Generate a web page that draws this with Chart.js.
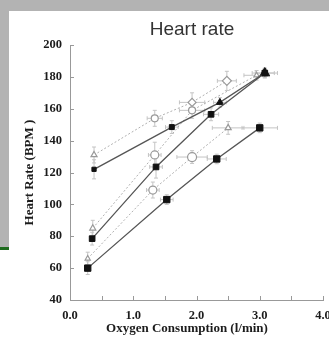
<!DOCTYPE html>
<html>
<head>
<meta charset="utf-8">
<script src="https://cdn.jsdelivr.net/npm/chart.js@4.4.1/dist/chart.umd.min.js"></script>
<style>
  html, body { margin: 0; padding: 0; width: 329px; height: 340px; overflow: hidden; background: #fff; }
  #topbar  { position: absolute; left: 0; top: 0; width: 329px; height: 11px; background: #b3b3b3; }
  #sidebar { position: absolute; left: 0; top: 0; width: 9px; height: 247px; background: #b3b3b3; }
  #rule    { position: absolute; left: 0; top: 247px; width: 9px; height: 3px; background: #1e6b1e; }
  #wrap    { position: absolute; left: 0; top: 0; width: 340px; height: 340px; }
</style>
</head>
<body>
<div id="topbar"></div>
<div id="sidebar"></div>
<div id="rule"></div>
<div id="wrap"><canvas id="c" width="340" height="340"></canvas></div>
<script>
// Text
const chartTitle = 'Heart rate';
const xTitle = 'Oxygen Consumption (l/min)';
const yTitle = 'Heart Rate (BPM )';

// Axis ranges / ticks
const xMin = 0, xMax = 4, xStep = 0.5;
const yMin = 40, yMax = 200, yStep = 20;

// Group 1 (upper pair)
const g1FilledVO2 = [0.38, 1.61, 2.37, 3.08];
const g1FilledHR  = [122, 148.5, 164, 182.4];
const g1FilledHRsd = [6, 4, 3, 3];
const g1FilledVO2sd = [0, 0.1, 0.1, 0.15];
const g1OpenVO2 = [0.38, 1.34, 1.93, 2.48];
const g1OpenHR  = [131, 154, 164, 177.5];
const g1OpenHRsd = [5, 5, 6, 6];
const g1OpenVO2sd = [0, 0.12, 0.2, 0.15];

// Group 2 (middle pair)
const g2FilledVO2 = [0.35, 1.36, 2.23, 3.08];
const g2FilledHR  = [78.5, 123.5, 156.5, 182.4];
const g2FilledHRsd = [4, 7, 4, 3];
const g2FilledVO2sd = [0, 0.1, 0.12, 0.2];
const g2OpenVO2 = [0.36, 1.34, 1.93, 2.95];
const g2OpenHR  = [85, 131, 159, 181];
const g2OpenHRsd = [5, 8, 5, 3];
const g2OpenVO2sd = [0, 0.1, 0.2, 0.2];

// Group 3 (lower pair)
const g3FilledVO2 = [0.28, 1.53, 2.32, 3.0];
const g3FilledHR  = [60, 103, 128.5, 148];
const g3FilledHRsd = [4, 3, 3, 3];
const g3FilledVO2sd = [0, 0.1, 0.15, 0.28];
const g3OpenVO2 = [0.28, 1.31, 1.93, 2.5];
const g3OpenHR  = [66, 109, 129.7, 148];
const g3OpenHRsd = [4, 5, 4, 4];
const g3OpenVO2sd = [0, 0.1, 0.24, 0.25];

const toPoints = (xs, ys) => xs.map((x, i) => ({ x: x, y: ys[i] }));

const textColor = '#1c1c1c';
const solidLine = '#555';
const dottedLine = '#b0b0b0';
const serifBold = { family: '"Liberation Serif", "DejaVu Serif", serif', weight: 'bold' };

function filledSet(xs, ys, xsd, ysd, style, r) {
  return {
    data: toPoints(xs, ys), errX: xsd, errY: ysd,
    borderColor: solidLine, borderWidth: 1.3,
    pointStyle: style, pointRadius: r,
    pointBackgroundColor: '#111', pointBorderColor: '#111', pointBorderWidth: 1,
    showLine: true, tension: 0
  };
}
function openSet(xs, ys, xsd, ysd, style, r) {
  return {
    data: toPoints(xs, ys), errX: xsd, errY: ysd,
    borderColor: dottedLine, borderWidth: 1, borderDash: [2, 2],
    pointStyle: style, pointRadius: r,
    pointBackgroundColor: '#fff', pointBorderColor: '#999', pointBorderWidth: 1.2,
    showLine: true, tension: 0
  };
}

// Error bars drawn behind the markers
const errorBars = {
  id: 'errorBars',
  beforeDatasetsDraw(chart) {
    const { ctx, scales: { x, y } } = chart;
    ctx.save();
    ctx.strokeStyle = '#c4c4c4';
    ctx.lineWidth = 1;
    chart.data.datasets.forEach(ds => {
      ds.data.forEach((p, i) => {
        const px = x.getPixelForValue(p.x), py = y.getPixelForValue(p.y);
        const ey = ds.errY ? ds.errY[i] : 0, ex = ds.errX ? ds.errX[i] : 0;
        ctx.beginPath();
        if (ey) {
          const t = y.getPixelForValue(p.y + ey), b = y.getPixelForValue(p.y - ey);
          ctx.moveTo(px, t); ctx.lineTo(px, b);
          ctx.moveTo(px - 2, t); ctx.lineTo(px + 2, t);
          ctx.moveTo(px - 2, b); ctx.lineTo(px + 2, b);
        }
        if (ex) {
          const l = x.getPixelForValue(p.x - ex), r = x.getPixelForValue(p.x + ex);
          ctx.moveTo(l, py); ctx.lineTo(r, py);
          ctx.moveTo(l, py - 2); ctx.lineTo(l, py + 2);
          ctx.moveTo(r, py - 2); ctx.lineTo(r, py + 2);
        }
        ctx.stroke();
      });
    });
    ctx.restore();
  }
};

// Inward tick marks, chart title and x-axis title
const decorations = {
  id: 'decorations',
  afterDraw(chart) {
    const { ctx, chartArea: a, scales: { x, y } } = chart;
    ctx.save();
    ctx.strokeStyle = '#999';
    ctx.lineWidth = 1;
    ctx.beginPath();
    y.ticks.forEach(t => {
      const py = Math.round(y.getPixelForValue(t.value)) + 0.5;
      ctx.moveTo(a.left, py); ctx.lineTo(a.left + 4, py);
    });
    x.ticks.forEach(t => {
      const px = Math.round(x.getPixelForValue(t.value)) + 0.5;
      ctx.moveTo(px, a.bottom); ctx.lineTo(px, a.bottom - 4);
    });
    ctx.stroke();

    ctx.fillStyle = '#333';
    ctx.textAlign = 'center';
    ctx.textBaseline = 'middle';
    ctx.font = '19px "Liberation Sans", Arial, sans-serif';
    ctx.fillText(chartTitle, a.left + 122, 30);

    ctx.fillStyle = textColor;
    ctx.font = 'bold 13px "Liberation Serif", "DejaVu Serif", serif';
    ctx.fillText(xTitle, x.getPixelForValue(1.85), 329);
    ctx.restore();
  }
};

new Chart(document.getElementById('c'), {
  type: 'scatter',
  data: {
    datasets: [
      filledSet(g3FilledVO2, g3FilledHR, g3FilledVO2sd, g3FilledHRsd, 'rect', 4.5),
      filledSet(g2FilledVO2, g2FilledHR, g2FilledVO2sd, g2FilledHRsd, 'rect', 4),
      filledSet(g1FilledVO2, g1FilledHR, g1FilledVO2sd, g1FilledHRsd, ['rect', 'rect', 'triangle', 'triangle'], [3, 3.5, 4, 5.5]),
      openSet(g3OpenVO2, g3OpenHR, g3OpenVO2sd, g3OpenHRsd, ['triangle', 'circle', 'circle', 'triangle'], [3, 4, 4.5, 3.5]),
      openSet(g2OpenVO2, g2OpenHR, g2OpenVO2sd, g2OpenHRsd, ['triangle', 'circle', 'circle', 'triangle'], [3.5, 4, 3.5, 3]),
      openSet(g1OpenVO2, g1OpenHR, g1OpenVO2sd, g1OpenHRsd, ['triangle', 'circle', 'rectRot', 'rectRot'], [3.5, 3.5, 4, 4.5])
    ]
  },
  options: {
    responsive: false,
    animation: false,
    layout: { padding: { left: 22, top: 45, right: 17, bottom: 3 } },
    plugins: { legend: { display: false }, tooltip: { enabled: false }, title: { display: false } },
    scales: {
      x: {
        type: 'linear', position: 'bottom', min: xMin, max: xMax,
        grid: { display: false, drawTicks: false },
        border: { display: true, color: '#999', width: 1 },
        ticks: {
          stepSize: xStep, autoSkip: false, maxRotation: 0, padding: 8, color: textColor,
          font: Object.assign({ size: 12.5 }, serifBold),
          callback: v => Number.isInteger(v) ? v.toFixed(1) : ''
        },
        afterFit(s) { s.height = 37; }
      },
      y: {
        type: 'linear', position: 'left', min: yMin, max: yMax,
        grid: { display: false, drawTicks: false },
        border: { display: true, color: '#999', width: 1 },
        ticks: {
          stepSize: yStep, padding: 8, color: textColor,
          font: Object.assign({ size: 12.5 }, serifBold)
        },
        title: {
          display: true, text: yTitle, color: textColor, padding: { top: 0, bottom: 0 },
          font: Object.assign({ size: 13 }, serifBold)
        },
        afterFit(s) { s.width = 48; }
      }
    }
  },
  plugins: [errorBars, decorations]
});
</script>
</body>
</html>
